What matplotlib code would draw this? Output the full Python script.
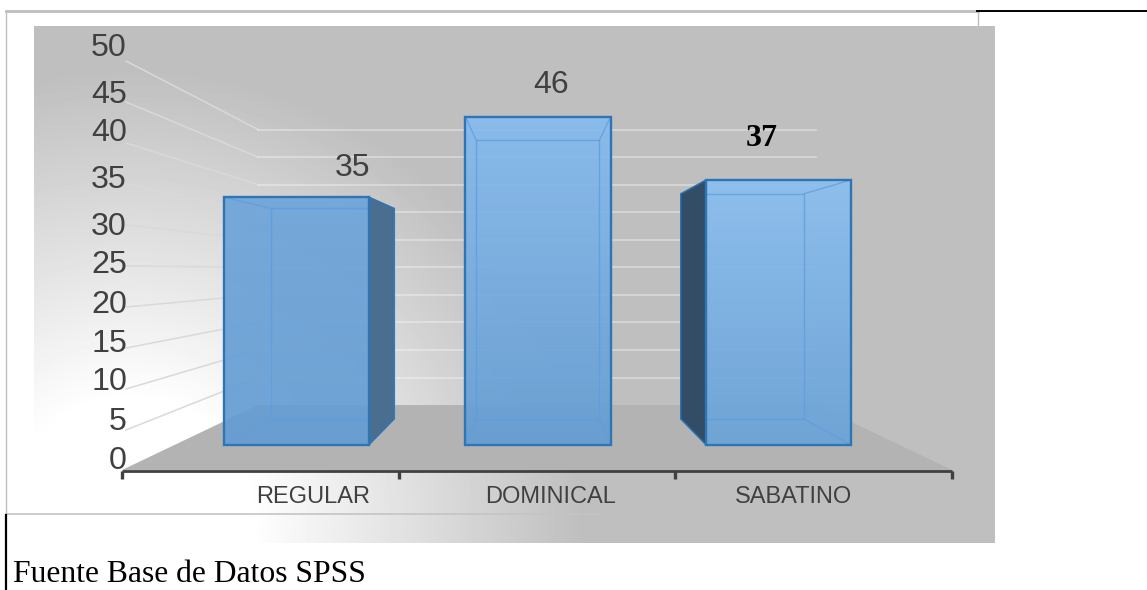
import numpy as np
import matplotlib
matplotlib.use('Agg')
import matplotlib.pyplot as plt
from matplotlib.patches import Polygon

# Data
categories = ['REGULAR', 'DOMINICAL', 'SABATINO']
bar_labels = ['35', '46', '37']
bar_heights = [34.6, 45.8, 37.0]  # as drawn in the picture
y_ticks = [0, 5, 10, 15, 20, 25, 30, 35, 40, 45, 50]

# Text positions, the labels are not evenly spaced in the original
y_label_pos = [461, 422, 382, 344, 305, 265, 227, 180, 133, 95, 48]
cat_label_x = [313, 551, 794]
value_label_pos = [(353, 168), (551, 85), (762, 139)]
bar_centers = [-0.996, 0.004, 1.0]

# Bar colours, top and bottom of the front face, and the side face
bar_top = ['#6fa5da', '#86bbee', '#8abef0']
bar_bottom = ['#659dd3', '#659dd3', '#6aa3d8']
side_color = ['#4a6e90', None, '#344d66']
edge_color = '#2e75b6'
inner_color = '#5d9ede'
text_color = '#404040'

# Perspective of the 3D chart
VX, VY = 537, 272
CAT_W = 276.67
UNIT = 8.2
BASE = 198
S_FRONT, S_BACK = 0.874, 0.742
S_WALL = 0.672
HALF_BAR = 0.30


def project(x, v, s):
    return VX + x * CAT_W * s, VY + (BASE - UNIT * v) * s


fig = plt.figure(figsize=(11.47, 5.9), dpi=100)
ax = fig.add_axes([0, 0, 1, 1])

# Background with the white glow in the lower left corner
gx, gy = np.meshgrid(np.arange(34, 995), np.arange(26, 543))
dist = np.hypot(gx - 130, gy - 520)
t = np.clip((dist - 120) / 330, 0, 1)
ax.imshow(255 - 64 * t, extent=(34, 995, 543, 26), cmap='gray', vmin=0, vmax=255,
          aspect='auto', zorder=1, interpolation='bilinear')

# Page frame around the chart
ax.plot([6, 978], [11, 11], color='#bfbfbf', lw=2, zorder=0.5)
ax.plot([6, 6], [11, 514], color='#bfbfbf', lw=1, zorder=0.5)
ax.plot([978, 978], [11, 26], color='#bfbfbf', lw=1, zorder=0.5)
ax.plot([6, 600], [514, 514], color='#c4c4c4', lw=1.2, zorder=2)
ax.plot([977, 1147], [11, 11], color='black', lw=1.4, zorder=3)
ax.plot([6, 6], [515, 590], color='black', lw=1.6, zorder=3)

# Floor
x_left, x_right = -1.5, 1.5
floor = [project(x_left, 0, 1), project(x_left, 0, S_WALL),
         project(x_right, 0, S_WALL), project(x_right, 0, 1)]
ax.add_patch(Polygon(floor, closed=True, fc='#b3b3b3', ec='none', zorder=2))

# Gridlines on the side and back walls
for v in y_ticks[1:]:
    x0, y0 = project(x_left, v, 1)
    x1, y1 = project(x_left, v, S_WALL)
    x2, y2 = project(x_right, v, S_WALL)
    ax.plot([x0 + 4, x1], [y0 + 1, y1], color='#d9d9d9', lw=1.1, zorder=3)
    ax.plot([x1, x2], [y1, y2], color='white', alpha=0.4, lw=1.2, zorder=3)

# Bars
for i, h in enumerate(bar_heights):
    xc = bar_centers[i]
    xl, xr = xc - HALF_BAR, xc + HALF_BAR
    fl_b = project(xl, 0, S_FRONT)
    fr_b = project(xr, 0, S_FRONT)
    fr_t = project(xr, h, S_FRONT)
    fl_t = project(xl, h, S_FRONT)
    bl_b = project(xl, 0, S_BACK)
    br_b = project(xr, 0, S_BACK)
    br_t = project(xr, h, S_BACK)
    bl_t = project(xl, h, S_BACK)

    # front face with vertical gradient
    top = np.array(matplotlib.colors.to_rgb(bar_top[i])).reshape(1, 1, 3)
    bottom = np.array(matplotlib.colors.to_rgb(bar_bottom[i])).reshape(1, 1, 3)
    w = np.linspace(0, 1, 64)[:, None, None]
    grad = top * (1 - w) + bottom * w
    grad = np.concatenate([grad, np.full((64, 1, 1), 0.93)], axis=2)
    ax.imshow(grad, extent=(fl_b[0], fr_b[0], fl_b[1], fl_t[1]), aspect='auto', zorder=4)

    # inner edges of the box
    back = [bl_b, br_b, br_t, bl_t]
    ax.add_patch(Polygon(back, closed=True, fc='none', ec=inner_color, lw=1.0, alpha=0.8, zorder=5))
    for a, b in [(fl_b, bl_b), (fr_b, br_b), (fl_t, bl_t), (fr_t, br_t)]:
        ax.plot([a[0], b[0]], [a[1], b[1]], color=inner_color, lw=0.9, alpha=0.8, zorder=5)

    # dark side face
    if side_color[i] is not None:
        if i == 0:
            side = [fr_b, br_b, br_t, fr_t]
        else:
            side = [fl_b, bl_b, bl_t, fl_t]
        ax.add_patch(Polygon(side, closed=True, fc=side_color[i], ec=edge_color,
                             lw=1.0, zorder=6))

    front = [fl_b, fr_b, fr_t, fl_t]
    ax.add_patch(Polygon(front, closed=True, fc='none', ec=edge_color, lw=1.7, zorder=7))

# Category axis
y_axis = project(0, 0, 1)[1] + 1
ax.plot([project(x_left, 0, 1)[0], project(x_right, 0, 1)[0]], [y_axis, y_axis],
        color=text_color, lw=2, zorder=8, solid_capstyle='butt')
for k in range(len(categories) + 1):
    tx = project(x_left + k, 0, 1)[0]
    ax.plot([tx, tx], [y_axis, y_axis + 8], color=text_color, lw=2.4, zorder=8,
            solid_capstyle='butt')

# Texts
for lab, ypos in zip(y_ticks, y_label_pos):
    ax.text(127, ypos, str(lab), ha='right', va='center', fontsize=23.2,
            family='Liberation Sans', color=text_color, zorder=9)
for name, xpos in zip(categories, cat_label_x):
    ax.text(xpos, 497, name, ha='center', va='center', fontsize=17,
            family='Liberation Sans', color=text_color, zorder=9)
for i, (lab, pos) in enumerate(zip(bar_labels, value_label_pos)):
    if i == 2:
        ax.text(pos[0], pos[1], lab, ha='center', va='center', fontsize=23,
                family='Liberation Serif', weight='bold', color='black', zorder=9)
    else:
        ax.text(pos[0], pos[1], lab, ha='center', va='center', fontsize=23,
                family='Liberation Sans', color=text_color, zorder=9)

ax.text(13, 582.5, 'Fuente Base de Datos SPSS', ha='left', va='baseline', fontsize=22.8,
        family='Liberation Serif', color='black', zorder=9)

ax.set_xlim(0, 1147)
ax.set_ylim(590, 0)
ax.axis('off')
fig.savefig('out.png', dpi=100)
